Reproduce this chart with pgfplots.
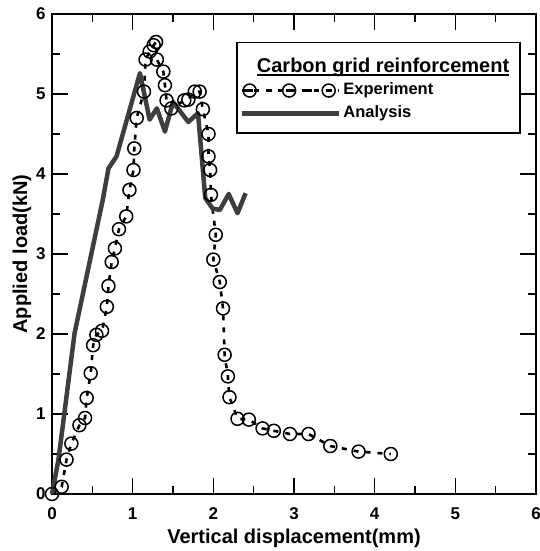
\documentclass[border=0pt]{standalone}
\usepackage{fontspec}
\setmainfont{Liberation Sans}
\usepackage{pgfplots}
\pgfplotsset{compat=1.18}
\usetikzlibrary{calc}
\definecolor{anagray}{RGB}{62,62,62}

% underline sitting just under the baseline
\newcommand{\ulbar}[1]{\setbox0\hbox{#1}\rlap{\rule[-3pt]{\wd0}{1.4pt}}\box0}

\begin{document}
\begin{tikzpicture}
\begin{axis}[
    name=ax,
    scale only axis, width=484pt, height=480pt,
    xmin=0, xmax=6, ymin=0, ymax=6,
    xtick={0,...,6}, ytick={0,...,6},
    minor x tick num=1, minor y tick num=1,
    tick align=inside, tick pos=both,
    major tick length=16pt, minor tick length=8pt,
    axis line style={line width=1.6pt},
    tick style={black, line width=1.6pt},
    /pgf/number format/assume math mode=true,
    ticklabel style={font=\fontsize{17}{17}\selectfont\bfseries},
    xticklabel style={yshift=-10pt},
    yticklabel style={xshift=-3pt},
    xlabel={Vertical displacement(mm)},
    ylabel={Applied load(kN)},
    xlabel style={font=\fontsize{20}{24}\selectfont\bfseries, at={(axis description cs:0.5,-0.0917)}, anchor=center},
    ylabel style={font=\fontsize{20}{24}\selectfont\bfseries, at={(axis description cs:-0.062,0.5)}, anchor=center},
    clip=false,
    legend cell align=left,
    legend style={at={(0.969,0.942)}, anchor=north east, draw=black, line width=1.6pt,
        inner xsep=3pt, inner ysep=9pt, row sep=2pt, nodes={inner sep=2pt, text depth=},
        font=\fontsize{16.5}{20}\selectfont\bfseries},
]
\addlegendimage{empty legend}
\addlegendentry{\fontsize{20}{24}\selectfont\hspace*{-86.5pt}\rule{0pt}{19pt}\ulbar{Carbon grid reinforcement}\hspace*{6pt}}

\addplot[black, line width=2.6pt, dash pattern=on 5pt off 7pt,
    mark=o, mark size=6.5pt, mark options={solid, line width=1.5pt},
    legend image code/.code={
        \path (-1pt,0pt) -- (96pt,0pt);
        \draw[black, line width=2.6pt, dash pattern=on 6pt off 13.75pt] (3.5pt,0pt) -- (88.5pt,0pt);
        \draw[black, solid, line width=1.5pt] (6.5pt,0pt) circle (6.5pt);
        \draw[black, solid, line width=1.5pt] (46pt,0pt) circle (6.5pt);
        \draw[black, solid, line width=1.5pt] (85.5pt,0pt) circle (6.5pt);
    }]
coordinates {
(0,0) (0.12,0.09) (0.18,0.43) (0.24,0.63) (0.34,0.86) (0.41,0.95)
(0.43,1.20) (0.48,1.51) (0.51,1.86) (0.55,1.99) (0.62,2.04) (0.68,2.34)
(0.70,2.60) (0.74,2.90) (0.78,3.07) (0.83,3.31) (0.92,3.47) (0.96,3.80)
(1.01,4.05) (1.02,4.32) (1.05,4.70) (1.14,5.03) (1.16,5.43) (1.21,5.53)
(1.26,5.61) (1.29,5.65) (1.30,5.43) (1.38,5.28) (1.40,5.11) (1.42,4.92)
(1.48,4.82) (1.64,4.92) (1.69,4.93) (1.77,5.03) (1.83,5.03) (1.87,4.81)
(1.94,4.50) (1.94,4.22) (1.96,4.05) (1.97,3.74) (2.03,3.24) (2.00,2.93)
(2.08,2.65) (2.12,2.32) (2.14,1.74) (2.18,1.47) (2.20,1.21) (2.30,0.94)
(2.44,0.93) (2.61,0.82) (2.75,0.79) (2.95,0.75) (3.18,0.75) (3.45,0.60)
(3.80,0.53) (4.20,0.50)
};
\addlegendentry{Experiment}

\addplot[anagray, line width=4.5pt, line join=round, no marks,
    legend image code/.code={
        \path (-1pt,0pt) -- (96pt,0pt);
        \draw[anagray, line width=4.5pt] (14pt,0pt) -- (95pt,0pt);
    }]
coordinates {
(0,0) (0.08,0.43) (0.28,2.01) (0.63,3.68) (0.70,4.07) (0.80,4.22)
(1.09,5.26) (1.21,4.68) (1.30,4.82) (1.40,4.53) (1.50,4.90) (1.69,4.65)
(1.81,4.76) (1.90,3.70) (1.99,3.57) (2.08,3.55) (2.19,3.75) (2.30,3.51)
(2.40,3.76)
};
\addlegendentry{\rule[-4.75pt]{0pt}{18pt}Analysis}
\end{axis}
\pgfresetboundingbox
\path ($(ax.south west)+(-52pt,-57pt)$) rectangle ($(ax.north east)+(3pt,14pt)$);
\end{tikzpicture}
\end{document}
